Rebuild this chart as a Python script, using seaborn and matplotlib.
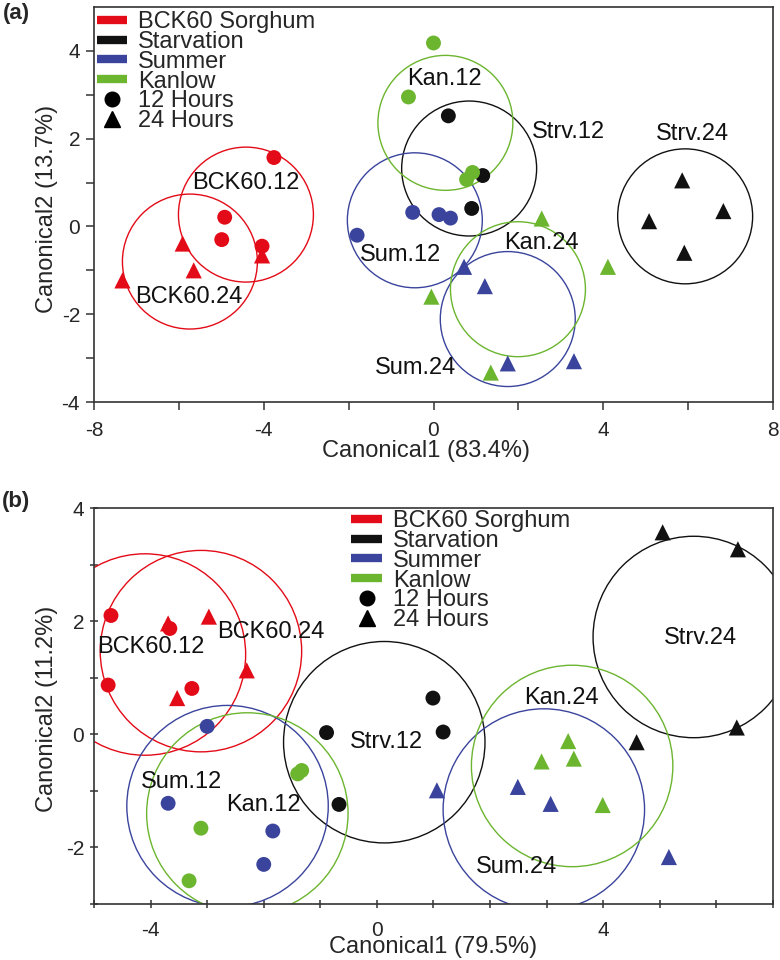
import numpy as np
import pandas as pd
import matplotlib
matplotlib.use("Agg")
import matplotlib.pyplot as plt
import seaborn as sns
from matplotlib.patches import Ellipse
from matplotlib.lines import Line2D
from matplotlib.ticker import FixedLocator, FixedFormatter

sns.set_style("white")
plt.rcParams['font.family'] = ['Liberation Sans', 'DejaVu Sans']

# ---------------- data ----------------
cultivars = ["BCK60 Sorghum", "Starvation", "Summer", "Kanlow"]
hours = ["12 Hours", "24 Hours"]
group_names = ["BCK60.12", "BCK60.24", "Strv.12", "Strv.24",
               "Sum.12", "Sum.24", "Kan.12", "Kan.24"]
group_cultivar = ["BCK60 Sorghum", "BCK60 Sorghum", "Starvation", "Starvation",
                  "Summer", "Summer", "Kanlow", "Kanlow"]

# panel (a) points
a_cultivar = (["BCK60 Sorghum"] * 8 + ["Starvation"] * 7 +
              ["Summer"] * 8 + ["Kanlow"] * 8)
a_hours = (["12 Hours"] * 4 + ["24 Hours"] * 4 +
           ["12 Hours"] * 3 + ["24 Hours"] * 4 +
           ["12 Hours"] * 4 + ["24 Hours"] * 4 +
           ["12 Hours"] * 4 + ["24 Hours"] * 4)
a_x = [-3.76, -4.92, -4.99, -4.04, -5.91, -5.65, -7.33, -4.04,
       0.35, 1.16, 0.90, 5.86, 5.08, 6.83, 5.91,
       -1.80, -0.49, 0.13, 0.40, 0.72, 1.21, 1.75, 3.31,
       0.00, -0.59, 0.92, 0.78, 2.55, 4.11, -0.05, 1.35]
a_y = [1.57, 0.21, -0.30, -0.45, -0.39, -1.00, -1.23, -0.66,
       2.52, 1.16, 0.41, 1.05, 0.12, 0.35, -0.60,
       -0.20, 0.32, 0.27, 0.19, -0.92, -1.36, -3.12, -3.07,
       4.18, 2.95, 1.23, 1.07, 0.18, -0.92, -1.60, -3.33]

# panel (a) group circles (centre) and label positions
a_circle_x = [-4.42, -5.74, 0.84, 5.93, -0.44, 1.75, 0.28, 1.99]
a_circle_y = [0.27, -0.80, 1.32, 0.23, 0.14, -2.11, 2.36, -1.43]
a_circle_r = 1.59
a_label_x = [-4.42, -5.77, 3.19, 6.10, -0.78, -0.42, 0.26, 2.55]
a_label_y = [1.00, -1.61, 2.16, 2.11, -0.66, -3.23, 3.36, -0.38]

# panel (b) points
b_cultivar = (["BCK60 Sorghum"] * 8 + ["Starvation"] * 8 +
              ["Summer"] * 8 + ["Kanlow"] * 8)
b_hours = (["12 Hours"] * 4 + ["24 Hours"] * 4) * 4
b_x = [-4.70, -3.66, -4.75, -3.27, -3.69, -2.97, -2.30, -3.53,
       -0.89, -0.67, 0.99, 1.17, 5.05, 6.38, 6.36, 4.59,
       -3.00, -3.69, -1.84, -2.00, 1.06, 2.49, 3.07, 5.16,
       -1.40, -1.33, -3.11, -3.32, 3.38, 2.91, 3.48, 3.99]
b_y = [2.10, 1.87, 0.87, 0.81, 1.96, 2.08, 1.13, 0.64,
       0.03, -1.24, 0.64, 0.04, 3.57, 3.27, 0.12, -0.14,
       0.14, -1.22, -1.71, -2.30, -0.99, -0.93, -1.23, -2.17,
       -0.70, -0.64, -1.66, -2.59, -0.12, -0.48, -0.43, -1.25]

b_circle_x = [-4.10, -3.11, 0.13, 5.60, -2.64, 2.95, -2.29, 3.45]
b_circle_y = [1.41, 1.47, -0.14, 1.72, -1.27, -1.33, -1.40, -0.56]
b_circle_r = 1.78
b_label_x = [-3.99, -1.87, 0.16, 5.71, -3.46, 2.47, -2.01, 3.26]
b_label_y = [1.54, 1.80, -0.14, 1.71, -0.85, -2.35, -1.25, 0.65]

# ---------------- style ----------------
palette = {"BCK60 Sorghum": "#e30b17", "Starvation": "#111111",
           "Summer": "#3a449c", "Kanlow": "#6cb52f"}
FS = 17

fig = plt.figure(figsize=(7.8, 9.6), dpi=100)
ax_a = fig.add_axes([94 / 780, 1 - 402 / 960, 679 / 780, 395 / 960])
ax_b = fig.add_axes([94 / 780, 1 - 904 / 960, 679 / 780, 396 / 960])


def draw_panel(ax, cult, hrs, xs, ys, cx, cy, r, lx, ly, xlim, ylim,
               xticks, xlabels, yticks, ylabels, xlabel, ylabel,
               xlab_pos, ylab_pos, leg_anchor, tick_dir, xpad):
    ax.set_xlim(*xlim)
    ax.set_ylim(*ylim)
    df = pd.DataFrame({"x": xs, "y": ys, "cultivar": cult, "hours": hrs})
    # circles
    bbox = ax.get_window_extent()
    ppx = bbox.width / (xlim[1] - xlim[0])
    ppy = bbox.height / (ylim[1] - ylim[0])
    for i, g in enumerate(group_names):
        col = palette[group_cultivar[i]]
        e = Ellipse((cx[i], cy[i]), 2 * r, 2 * r * ppx / ppy, fill=False,
                    ec=col, lw=1.0, zorder=2)
        ax.add_patch(e)
        ax.text(lx[i], ly[i], g, fontsize=FS, ha="center", va="center",
                color="#111111", zorder=4)
    d12 = df[df.hours == "12 Hours"]
    d24 = df[df.hours == "24 Hours"]
    sns.scatterplot(data=d12, x="x", y="y", hue="cultivar", palette=palette,
                    marker="o", s=115, linewidth=0, legend=False, ax=ax,
                    zorder=3)
    sns.scatterplot(data=d24, x="x", y="y", hue="cultivar", palette=palette,
                    marker="^", s=135, linewidth=0, legend=False, ax=ax,
                    zorder=3)
    ax.set_xlim(*xlim)
    ax.set_ylim(*ylim)
    ax.xaxis.set_major_locator(FixedLocator(xticks))
    ax.xaxis.set_major_formatter(FixedFormatter(xlabels))
    ax.yaxis.set_major_locator(FixedLocator(yticks))
    ax.yaxis.set_major_formatter(FixedFormatter(ylabels))
    ax.tick_params(axis="both", which="major", direction=tick_dir, length=6,
                   width=1.1, color="#333333", labelsize=15, pad=4,
                   bottom=True, left=True)
    ax.tick_params(axis="x", pad=xpad)
    for s in ax.spines.values():
        s.set_color("#333333")
        s.set_linewidth(1.2)
    ax.set_xlabel(xlabel, fontsize=FS)
    ax.set_ylabel(ylabel, fontsize=FS)
    ax.xaxis.set_label_coords(*xlab_pos)
    ax.yaxis.set_label_coords(*ylab_pos)
    handles = [Line2D([0], [0], color=palette[c], lw=6, solid_capstyle="butt")
               for c in cultivars]
    handles += [Line2D([0], [0], marker="o", ls="", color="black",
                       markersize=10.5),
                Line2D([0], [0], marker="^", ls="", color="black",
                       markersize=11.5)]
    labels = cultivars + hours
    ax.legend(handles, labels, loc="upper left", bbox_to_anchor=leg_anchor,
              frameon=False, fontsize=FS, handlelength=1.3,
              handletextpad=0.45, labelspacing=-0.09, borderpad=0,
              borderaxespad=0)


def lab(vals, show):
    return [(f"{v:g}" if v in show else "") for v in vals]


ax_tick_x = [-8, -6, -4, -2, 0, 2, 4, 6, 8]
ax_tick_y = [-4, -3, -2, -1, 0, 1, 2, 3, 4]
draw_panel(ax_a, a_cultivar, a_hours, a_x, a_y, a_circle_x, a_circle_y,
           a_circle_r, a_label_x, a_label_y, (-8, 8), (-4, 5),
           ax_tick_x, lab(ax_tick_x, [-8, -4, 0, 4, 8]),
           ax_tick_y, lab(ax_tick_y, [-4, -2, 0, 2, 4]),
           "Canonical1 (83.4%)", "Canonical2 (13.7%)",
           (0.489, -0.096), (-0.053, 0.489), (0.004, 0.99), "out", 7.5)

bx_tick_x = list(range(-5, 8))
bx_tick_y = list(range(-3, 5))
draw_panel(ax_b, b_cultivar, b_hours, b_x, b_y, b_circle_x, b_circle_y,
           b_circle_r, b_label_x, b_label_y, (-5, 7), (-3, 4),
           bx_tick_x, lab(bx_tick_x, [-4, 0, 4]),
           bx_tick_y, lab(bx_tick_y, [-2, 0, 2, 4]),
           "Canonical1 (79.5%)", "Canonical2 (11.2%)",
           (0.5, -0.081), (-0.053, 0.492), (0.379, 0.995), "inout", 9)

fig.text(16 / 780, 1 - 14 / 960, "(a)", fontsize=16, fontweight="bold",
         ha="center", va="center")
fig.text(16 / 780, 1 - 502 / 960, "(b)", fontsize=16, fontweight="bold",
         ha="center", va="center")

fig.savefig("out.png", dpi=100)
